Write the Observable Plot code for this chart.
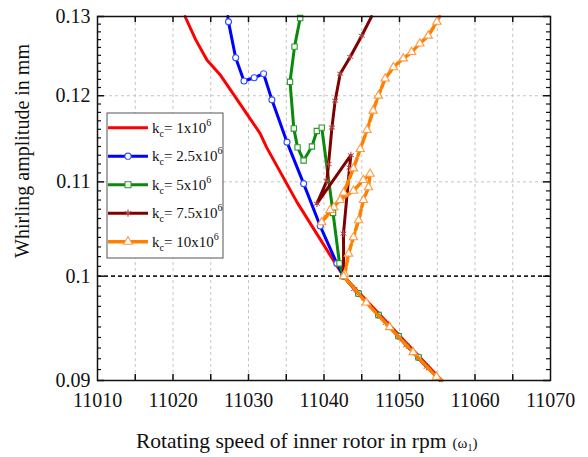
<!DOCTYPE html>
<html>
<head>
<meta charset="utf-8">
<script src="https://cdn.jsdelivr.net/npm/d3@7"></script>
<script src="https://cdn.jsdelivr.net/npm/@observablehq/plot@0.6"></script>
<style>
  html, body { margin: 0; padding: 0; background: #fff; }
  #chart { width: 588px; height: 457px; }
  #chart svg, #chart svg text { font-family: "Liberation Serif", "DejaVu Serif", serif !important; }
</style>
</head>
<body>
<div id="chart"></div>
<script>
// ---- axis values ----
const xTicks = [11010, 11020, 11030, 11040, 11050, 11060, 11070];
const xMinorTicks = [11015, 11020, 11025, 11030, 11035, 11040, 11045, 11050, 11055, 11060, 11065];
const xGrid = [11015, 11020, 11025, 11030, 11035, 11040, 11045, 11050, 11055, 11060, 11065];
const yTicks = [0.09, 0.1, 0.11, 0.12, 0.13];
const yTickLabels = ["0.09", "0.1", "0.11", "0.12", "0.13"];
const yGrid = [0.11, 0.12];
const yMinor = [0.091, 0.092, 0.093, 0.094, 0.095, 0.096, 0.097, 0.098, 0.099,
                0.101, 0.102, 0.103, 0.104, 0.105, 0.106, 0.107, 0.108, 0.109,
                0.111, 0.112, 0.113, 0.114, 0.115, 0.116, 0.117, 0.118, 0.119,
                0.121, 0.122, 0.123, 0.124, 0.125, 0.126, 0.127, 0.128, 0.129];
const refLine = [0.1];

// ---- series (path order, top end -> 0.1 turning point -> lower branch) ----
const redX = [11021.6, 11023.0, 11024.5, 11026.3, 11028.0, 11029.8, 11031.55, 11032.4, 11036.4, 11041.5, 11042.6, 11055.6];
const redY = [0.13, 0.1270, 0.1244, 0.1225, 0.1202, 0.1178, 0.1155, 0.1139, 0.1078, 0.1013, 0.1, 0.09];

const blueX = [11027.25, 11027.35, 11028.3, 11029.4, 11030.75, 11032.0, 11033.1, 11035.1, 11037.3, 11039.5, 11041.7, 11042.6, 11044.57, 11047.22, 11049.87, 11052.52, 11055.4];
const blueY = [0.13, 0.1293, 0.1247, 0.1218, 0.1222, 0.1227, 0.1195, 0.1145, 0.1098, 0.1052, 0.1013, 0.1, 0.09826, 0.09616, 0.09413, 0.09213, 0.09001];

const greenX = [11036.9, 11036.85, 11036.1, 11035.5, 11036.0, 11036.5, 11037.3, 11038.4, 11039.05, 11039.7, 11041.2, 11042.05, 11042.6, 11044.57, 11047.22, 11049.87, 11052.52, 11055.4];
const greenY = [0.13, 0.1298, 0.1261, 0.1217, 0.1161, 0.1139, 0.1124, 0.1140, 0.1158, 0.1162, 0.1066, 0.1013, 0.1, 0.09826, 0.09616, 0.09413, 0.09213, 0.09001];

const maroonX = [11046.3, 11045.0, 11043.47, 11042.15, 11041.48, 11041.05, 11040.6, 11040.38, 11039.06, 11043.56, 11043.38, 11042.58, 11042.6, 11044.0, 11048.2, 11050.9, 11053.6, 11055.6];
const maroonY = [0.13, 0.1275, 0.1248, 0.1227, 0.1194, 0.1162, 0.1120, 0.1101, 0.1076, 0.1130, 0.1116, 0.1044, 0.1, 0.09872, 0.0954, 0.09326, 0.09125, 0.09];

const orangeX = [11055.3, 11054.95, 11053.8, 11052.7, 11051.6, 11050.5, 11049.2, 11048.1, 11047.2, 11046.5, 11045.7, 11044.8, 11043.9, 11042.6, 11041.3, 11039.7,
                 11040.8, 11042.15, 11043.9, 11045.2, 11046.1, 11045.9, 11045.23, 11044.57, 11043.9, 11043.25, 11042.75, 11042.6,
                 11045.6, 11048.7, 11051.8, 11054.9, 11055.6];
const orangeY = [0.13, 0.1293, 0.1275, 0.1265, 0.1254, 0.1246, 0.1235, 0.1221, 0.1200, 0.1182, 0.1159, 0.1137, 0.1115, 0.1088, 0.1072, 0.1056,
                 0.1069, 0.1080, 0.1090, 0.1102, 0.1109, 0.1094, 0.1080, 0.1058, 0.1040, 0.1023, 0.1002, 0.1,
                 0.09737, 0.09498, 0.09261, 0.09034, 0.09];

const legendLabels = [["1", "6"], ["2.5", "6"], ["5", "6"], ["7.5", "6"], ["10", "6"]];

// ---- build ----
const pts = (xs, ys) => xs.map((x, i) => ({x, y: ys[i]}));
const red = pts(redX, redY), blue = pts(blueX, blueY), green = pts(greenX, greenY),
      maroon = pts(maroonX, maroonY), orange = pts(orangeX, orangeY);
const inside = d => d.y < 0.1299 && d.y > 0.0901;

const W = 588, H = 457, mL = 97, mR = 38, mT = 16, mB = 77;
const fw = W - mL - mR, fh = H - mT - mB;
const serif = "Liberation Serif";

const C = {red: "#ff0000", blue: "#0000ff", green: "#0a8a0a", maroon: "#800000", orange: "#ff8000"};

const plot = Plot.plot({
  width: W, height: H,
  marginLeft: mL, marginRight: mR, marginTop: mT, marginBottom: mB,
  style: {fontFamily: serif, fontSize: "20px", background: "#fff", color: "#111"},
  x: {domain: [11010, 11070]},
  y: {type: "log", domain: [0.09, 0.13]},
  marks: [
    Plot.ruleX(xGrid, {stroke: "#c4c4c4", strokeDasharray: "3,3", strokeWidth: 1}),
    Plot.ruleY(yGrid, {stroke: "#c4c4c4", strokeDasharray: "3,3", strokeWidth: 1}),
    Plot.ruleY(refLine, {stroke: "#222", strokeDasharray: "4,3", strokeWidth: 1.7}),
    // ticks
    Plot.ruleX(xMinorTicks, {insetTop: fh - 6, stroke: "#111", strokeWidth: 1.5}),
    Plot.ruleX(xMinorTicks, {insetBottom: fh - 6, stroke: "#111", strokeWidth: 1.5}),
    Plot.ruleY(yTicks, {insetRight: fw - 7, stroke: "#111", strokeWidth: 1.5}),
    Plot.ruleY(yTicks, {insetLeft: fw - 7, stroke: "#111", strokeWidth: 1.5}),
    Plot.ruleY(yMinor, {insetRight: fw - 4, stroke: "#111", strokeWidth: 1.2}),
    Plot.ruleY(yMinor, {insetLeft: fw - 4, stroke: "#111", strokeWidth: 1.2}),
    // series
    Plot.line(red, {x: "x", y: "y", stroke: C.red, strokeWidth: 3}),
    Plot.line(blue, {x: "x", y: "y", stroke: C.blue, strokeWidth: 3}),
    Plot.dot(blue, {x: "x", y: "y", filter: inside, symbol: "circle", r: 3, stroke: "#3050ff", fill: "#fff", strokeWidth: 1.1}),
    Plot.line(green, {x: "x", y: "y", stroke: C.green, strokeWidth: 3}),
    Plot.dot(green, {x: "x", y: "y", filter: inside, symbol: "square", r: 3, stroke: "#2a9a2a", fill: "#fff", strokeWidth: 1.1}),
    Plot.line(maroon, {x: "x", y: "y", stroke: C.maroon, strokeWidth: 3}),
    Plot.dot(maroon, {x: "x", y: "y", filter: inside, symbol: "asterisk", r: 3.3, stroke: "#b04848", fill: "none", strokeWidth: 1}),
    Plot.line(orange, {x: "x", y: "y", stroke: C.orange, strokeWidth: 3.5, strokeDasharray: "9,3"}),
    Plot.dot(orange, {x: "x", y: "y", filter: inside, symbol: "triangle", r: 3.1, stroke: "#ff9a40", fill: "#fff", strokeWidth: 1.1}),
    Plot.frame({stroke: "#111", strokeWidth: 1.5}),
    Plot.axisX(xTicks, {tickSize: 0, tickPadding: 12, fontSize: 20, fontFamily: serif, label: null,
      tickFormat: d => String(d)}),
    Plot.axisY(yTicks, {tickSize: 0, tickPadding: 7, fontSize: 20, fontFamily: serif, label: null,
      tickFormat: d => yTickLabels[yTicks.indexOf(d)]})
  ]
});

document.getElementById("chart").appendChild(plot);

// ---- titles & legend (text with sub/superscripts) ----
const svg = d3.select(plot);

const xt = svg.append("text").attr("x", 136).attr("y", 448).attr("text-anchor", "start")
  .attr("font-family", serif).attr("font-size", 21.5).attr("fill", "#111");
xt.append("tspan").text("Rotating speed of inner rotor in rpm");
xt.append("tspan").attr("font-size", 15).attr("dx", 6).text("(ω");
xt.append("tspan").attr("font-size", 10).attr("dy", 3).text("1");
xt.append("tspan").attr("font-size", 15).attr("dy", -3).text(")");

svg.append("text").attr("transform", "translate(29,151) rotate(-90)")
  .attr("text-anchor", "middle").attr("font-family", serif).attr("font-size", 20).attr("fill", "#111")
  .text("Whirling amplitude in mm");

const lg = svg.append("g");
lg.append("rect").attr("x", 107).attr("y", 113).attr("width", 116).attr("height", 145)
  .attr("fill", "#fff").attr("stroke", "#555").attr("stroke-width", 1);
const lColors = [C.red, C.blue, C.green, C.maroon, C.orange];
const lMark = [null, "circle", "square", "asterisk", "triangle"];
const lMarkStroke = [null, "#3050ff", "#2a9a2a", "#b04848", "#ff9a40"];
legendLabels.forEach((lab, i) => {
  const y = 127.7 + i * 28.5;
  lg.append("line").attr("x1", 108).attr("x2", 148).attr("y1", y).attr("y2", y)
    .attr("stroke", lColors[i]).attr("stroke-width", i === 4 ? 3.5 : 3);
  if (lMark[i]) {
    const sym = {circle: d3.symbolCircle, square: d3.symbolSquare, asterisk: d3.symbolAsterisk, triangle: d3.symbolTriangle}[lMark[i]];
    const size = {circle: 30, square: 36, asterisk: 36, triangle: 34}[lMark[i]];
    lg.append("path").attr("transform", `translate(128,${y})`).attr("d", d3.symbol(sym, size)())
      .attr("fill", lMark[i] === "asterisk" ? "none" : "#fff").attr("stroke", lMarkStroke[i]).attr("stroke-width", 1.1);
  }
  const t = lg.append("text").attr("x", 152).attr("y", y + 5).attr("text-anchor", "start")
    .attr("font-family", serif).attr("font-size", 15).attr("fill", "#111");
  t.append("tspan").text("k");
  t.append("tspan").attr("font-size", 10).attr("dy", 4).text("c");
  t.append("tspan").attr("dy", -4).text("= " + lab[0] + "x10");
  t.append("tspan").attr("font-size", 10).attr("dy", -7).text(lab[1]);
});
</script>
</body>
</html>
